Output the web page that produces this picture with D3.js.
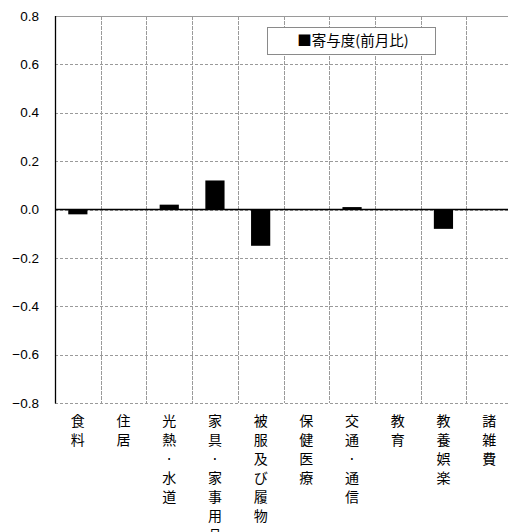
<!DOCTYPE html>
<html><head><meta charset="utf-8">
<script src="https://cdn.jsdelivr.net/npm/d3@7"></script>
<style>body{margin:0;background:#fff}svg{display:block}</style>
</head><body>
<svg id="c" width="508" height="532"></svg>
<script>
const categories = ["食料","住居","光熱・水道","家具・家事用品","被服及び履物","保健医療","交通・通信","教育","教養娯楽","諸雑費"];
const values = [-0.02, 0, 0.02, 0.12, -0.15, 0, 0.01, 0, -0.08, 0];
const yTicks = [0.8, 0.6, 0.4, 0.2, 0.0, -0.2, -0.4, -0.6, -0.8];
const legendLabel = "■寄与度(前月比)";

(function () {
const svg = d3.select("#c");
const pL = 55, pR = 512, pT = 16, pB = 403;
const x = d3.scaleBand().domain(categories).range([pL, pR]).paddingInner(0).paddingOuter(0);
const y = d3.scaleLinear().domain([-0.8, 0.8]).range([pB, pT]);

// horizontal gridlines
svg.append("g").selectAll("line").data(yTicks).join("line")
  .attr("x1", pL).attr("x2", pR)
  .attr("y1", d => Math.round(y(d)) + 0.5).attr("y2", d => Math.round(y(d)) + 0.5)
  .attr("stroke", "#9a9a9a").attr("stroke-width", 1)
  .attr("stroke-dasharray", d => (d === 0.8 ? null : "3,2"));

// vertical gridlines
svg.append("g").selectAll("line").data(categories.slice(1)).join("line")
  .attr("x1", d => Math.round(x(d)) + 0.5).attr("x2", d => Math.round(x(d)) + 0.5)
  .attr("y1", pT).attr("y2", pB)
  .attr("stroke", "#9a9a9a").attr("stroke-width", 1).attr("stroke-dasharray", "4,1");

// bars
const bw = x.bandwidth() * 0.42;
svg.append("g").selectAll("rect").data(categories.map((c, i) => ({c, v: values[i]})).filter(d => d.v !== 0)).join("rect")
  .attr("x", d => x(d.c) + (x.bandwidth() - bw) / 2)
  .attr("width", bw)
  .attr("y", d => y(Math.max(0, d.v)))
  .attr("height", d => Math.abs(y(d.v) - y(0)))
  .attr("fill", "#000");

// zero line
svg.append("line").attr("x1", pL).attr("x2", pR)
  .attr("y1", y(0)).attr("y2", y(0)).attr("stroke", "#000").attr("stroke-width", 1.3);

// left axis
svg.append("line").attr("x1", pL + 0.5).attr("x2", pL + 0.5)
  .attr("y1", pT).attr("y2", pB + 0.5).attr("stroke", "#000").attr("stroke-width", 1.3);

// y tick labels
svg.append("g").selectAll("text").data(yTicks).join("text")
  .attr("x", 39).attr("y", d => y(d)).attr("dy", "0.35em")
  .attr("text-anchor", "end")
  .attr("font-family", "'Liberation Sans', Arial, sans-serif").attr("font-size", 13.5)
  .text(d => d3.format(".1f")(d).replace("-", "\u2212"));

// x labels (vertical stacked)
const xl = svg.append("g");
categories.forEach(c => {
  const cx = x(c) + x.bandwidth() / 2;
  const t = xl.append("text").attr("text-anchor", "middle")
    .attr("font-family", "'Noto Sans CJK JP', sans-serif").attr("font-size", 14).attr("fill", "#000");
  Array.from(c).forEach((ch, i) => {
    t.append("tspan").attr("x", cx).attr("y", 426 + i * 19)
      .text(ch === "・" ? "·" : ch);
  });
});

// legend
svg.append("rect").attr("x", 267.5).attr("y", 27.5).attr("width", 168).attr("height", 27)
  .attr("fill", "#fff").attr("stroke", "#8a8a8a").attr("stroke-width", 1);
svg.append("text").attr("x", 353).attr("y", 41).attr("dy", "0.35em").attr("text-anchor", "middle")
  .attr("font-family", "'Noto Sans CJK JP', sans-serif").attr("font-size", 14.5).text(legendLabel);
})();
</script>
</body></html>
